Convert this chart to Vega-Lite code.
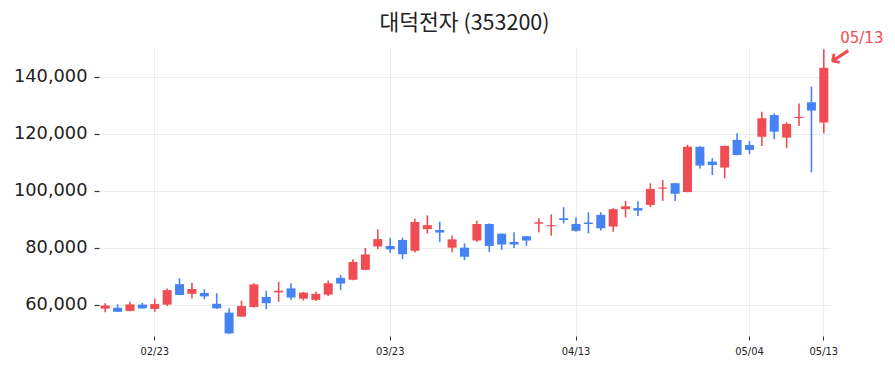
{
  "$schema": "https://vega.github.io/schema/vega-lite/v6.json",
  "width": 731,
  "height": 289,
  "autosize": {"type": "none"},
  "padding": {"left": 99, "top": 47, "right": 65, "bottom": 37},
  "background": "white",
  "title": {
    "text": "대덕전자 (353200)",
    "font": "Noto Sans CJK KR",
    "fontSize": 21.5,
    "fontWeight": "normal",
    "color": "#222",
    "anchor": "middle",
    "baseline": "middle",
    "offset": -14
  },
  "config": {
    "view": {"stroke": null},
    "axis": {"domain": false, "gridColor": "#ececec", "gridWidth": 1, "tickColor": "#333", "labelColor": "#222", "titleColor": "#222"}
  },
  "datasets": {
    "ohlc": [
      {"d": "02/12", "o": 58700, "h": 60600, "l": 57400, "c": 59800},
      {"d": "02/13", "o": 59000, "h": 60200, "l": 57500, "c": 57600},
      {"d": "02/19", "o": 57900, "h": 61100, "l": 57800, "c": 60200},
      {"d": "02/20", "o": 60100, "h": 60700, "l": 58700, "c": 58800},
      {"d": "02/23", "o": 58600, "h": 62200, "l": 57600, "c": 60300},
      {"d": "02/24", "o": 60100, "h": 65800, "l": 59600, "c": 65200},
      {"d": "02/25", "o": 67300, "h": 69300, "l": 63400, "c": 63500},
      {"d": "02/26", "o": 63900, "h": 67800, "l": 62300, "c": 65600},
      {"d": "02/27", "o": 64200, "h": 65500, "l": 62000, "c": 63000},
      {"d": "03/03", "o": 60400, "h": 64100, "l": 58600, "c": 58800},
      {"d": "03/04", "o": 57300, "h": 58800, "l": 49900, "c": 50000},
      {"d": "03/05", "o": 55900, "h": 61500, "l": 55800, "c": 59600},
      {"d": "03/06", "o": 59300, "h": 67600, "l": 59000, "c": 67200},
      {"d": "03/09", "o": 62800, "h": 65000, "l": 58500, "c": 60600},
      {"d": "03/10", "o": 64400, "h": 68100, "l": 61100, "c": 65000},
      {"d": "03/11", "o": 65800, "h": 67600, "l": 61700, "c": 62600},
      {"d": "03/12", "o": 62200, "h": 64600, "l": 61500, "c": 64300},
      {"d": "03/13", "o": 61800, "h": 64600, "l": 61400, "c": 63900},
      {"d": "03/16", "o": 63600, "h": 68500, "l": 63100, "c": 67600},
      {"d": "03/17", "o": 69500, "h": 70500, "l": 65200, "c": 67500},
      {"d": "03/18", "o": 68800, "h": 76000, "l": 68700, "c": 75100},
      {"d": "03/19", "o": 72300, "h": 80000, "l": 72200, "c": 77700},
      {"d": "03/20", "o": 80500, "h": 86500, "l": 79600, "c": 83100},
      {"d": "03/23", "o": 80700, "h": 83600, "l": 78300, "c": 79500},
      {"d": "03/24", "o": 82800, "h": 83600, "l": 76100, "c": 77800},
      {"d": "03/25", "o": 79000, "h": 90200, "l": 78400, "c": 89100},
      {"d": "03/26", "o": 86600, "h": 91400, "l": 85100, "c": 88000},
      {"d": "03/27", "o": 86300, "h": 89200, "l": 82000, "c": 85400},
      {"d": "03/30", "o": 80100, "h": 84400, "l": 78500, "c": 83000},
      {"d": "03/31", "o": 80100, "h": 81600, "l": 75700, "c": 76900},
      {"d": "04/01", "o": 82600, "h": 89500, "l": 82100, "c": 88400},
      {"d": "04/02", "o": 88400, "h": 88600, "l": 78600, "c": 80700},
      {"d": "04/03", "o": 85000, "h": 85100, "l": 79300, "c": 81200},
      {"d": "04/06", "o": 82100, "h": 85500, "l": 80000, "c": 81200},
      {"d": "04/07", "o": 84100, "h": 84200, "l": 80700, "c": 82600},
      {"d": "04/08", "o": 88500, "h": 90400, "l": 85500, "c": 89000},
      {"d": "04/09", "o": 87600, "h": 91800, "l": 84300, "c": 88000},
      {"d": "04/10", "o": 90400, "h": 94300, "l": 88600, "c": 89800},
      {"d": "04/13", "o": 88400, "h": 90700, "l": 85700, "c": 86000},
      {"d": "04/14", "o": 88900, "h": 92500, "l": 85100, "c": 88400},
      {"d": "04/15", "o": 91600, "h": 92500, "l": 86100, "c": 86900},
      {"d": "04/16", "o": 87500, "h": 93900, "l": 85700, "c": 93600},
      {"d": "04/17", "o": 93600, "h": 96500, "l": 90700, "c": 94600},
      {"d": "04/20", "o": 94000, "h": 96400, "l": 91200, "c": 93100},
      {"d": "04/21", "o": 95100, "h": 102700, "l": 94300, "c": 100700},
      {"d": "04/22", "o": 100800, "h": 103800, "l": 96500, "c": 101200},
      {"d": "04/23", "o": 102700, "h": 102800, "l": 96500, "c": 99000},
      {"d": "04/24", "o": 99600, "h": 116200, "l": 99500, "c": 115500},
      {"d": "04/27", "o": 115500, "h": 115700, "l": 107900, "c": 108900},
      {"d": "04/28", "o": 110300, "h": 111500, "l": 105600, "c": 109100},
      {"d": "04/29", "o": 108200, "h": 115900, "l": 104400, "c": 115800},
      {"d": "04/30", "o": 117900, "h": 120200, "l": 112500, "c": 112600},
      {"d": "05/04", "o": 116100, "h": 117500, "l": 112900, "c": 114400},
      {"d": "05/06", "o": 119000, "h": 127800, "l": 115800, "c": 125500},
      {"d": "05/07", "o": 126600, "h": 127200, "l": 118100, "c": 120800},
      {"d": "05/08", "o": 118700, "h": 124100, "l": 115000, "c": 123500},
      {"d": "05/11", "o": 125600, "h": 130700, "l": 122800, "c": 126000},
      {"d": "05/12", "o": 131100, "h": 136600, "l": 106500, "c": 128200},
      {"d": "05/13", "o": 124000, "h": 149700, "l": 120200, "c": 143200}
    ],
    "note": [
      {"d": "05/13", "p": 149700, "label": "05/13", "arrow": "←"}
    ]
  },
  "layer": [
    {
      "data": {"name": "ohlc"},
      "mark": {"type": "rule", "strokeWidth": 1.6},
      "encoding": {
        "x": {
          "field": "d", "type": "ordinal", "sort": null,
          "scale": {"type": "band", "paddingInner": 0, "paddingOuter": 0},
          "axis": {
            "title": null,
            "values": ["02/23", "03/23", "04/13", "05/04", "05/13"],
            "labelAngle": 0,
            "grid": true,
            "bandPosition": 0.5,
            "tickSize": 4,
            "tickWidth": 1,
            "labelPadding": 5,
            "labelFont": "DejaVu Sans Condensed, DejaVu Sans",
            "labelFontSize": 11
          }
        },
        "y": {
          "field": "l", "type": "quantitative",
          "scale": {"domain": [49100, 150500], "nice": false, "zero": false},
          "axis": {
            "title": null,
            "values": [60000, 80000, 100000, 120000, 140000],
            "format": ",.0f",
            "grid": true,
            "tickSize": 5,
            "tickWidth": 1.2,
            "labelPadding": 7,
            "labelFont": "DejaVu Sans",
            "labelFontSize": 17.8
          }
        },
        "y2": {"field": "h"},
        "color": {"condition": {"test": "datum.c >= datum.o", "value": "#ef4d53"}, "value": "#4582f2"}
      }
    },
    {
      "data": {"name": "ohlc"},
      "mark": {"type": "bar", "size": 9, "stroke": null},
      "encoding": {
        "x": {"field": "d", "type": "ordinal", "sort": null},
        "y": {"field": "o", "type": "quantitative"},
        "y2": {"field": "c"},
        "color": {"condition": {"test": "datum.c >= datum.o", "value": "#ef4d53"}, "value": "#4582f2"}
      }
    },
    {
      "data": {"name": "note"},
      "mark": {"type": "text", "font": "DejaVu Sans", "fontSize": 15, "color": "#ef4d53", "dx": 38, "dy": -11, "align": "center", "baseline": "middle"},
      "encoding": {
        "x": {"field": "d", "type": "ordinal", "sort": null},
        "y": {"field": "p", "type": "quantitative"},
        "text": {"field": "label"}
      }
    },
    {
      "data": {"name": "note"},
      "mark": {"type": "text", "font": "DejaVu Sans", "fontSize": 27, "fontWeight": "bold", "color": "#ef4d53", "dx": 10, "dy": 15, "angle": -33, "align": "center", "baseline": "middle"},
      "encoding": {
        "x": {"field": "d", "type": "ordinal", "sort": null},
        "y": {"field": "p", "type": "quantitative"},
        "text": {"field": "arrow"}
      }
    }
  ]
}
